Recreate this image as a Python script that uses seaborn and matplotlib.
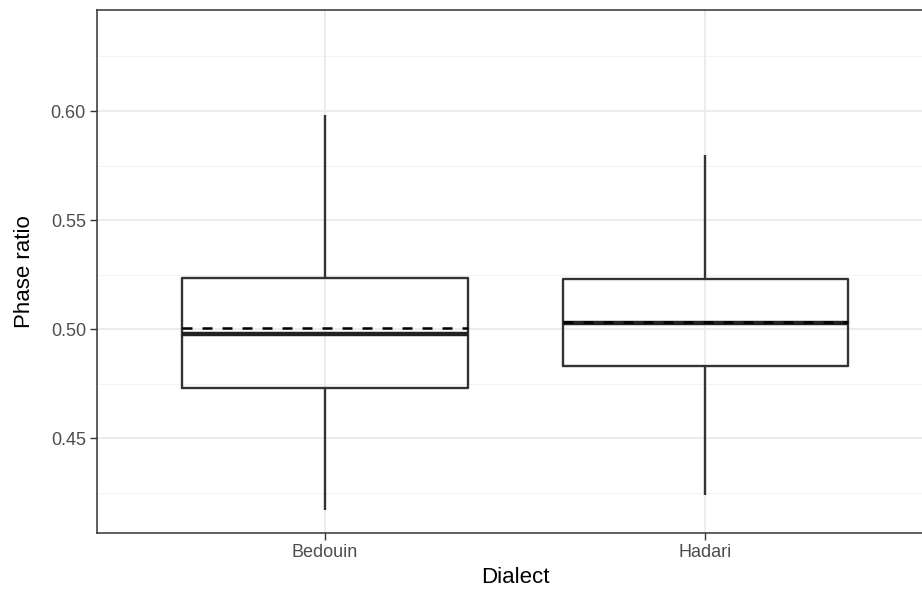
import matplotlib
matplotlib.use("Agg")
import matplotlib.pyplot as plt
import seaborn as sns
import pandas as pd
import numpy as np

# Data (five-number summaries) and group means
dialects = ["Bedouin", "Hadari"]
bedouin_vals = [0.4171, 0.4732, 0.4978, 0.5234, 0.5982]
hadari_vals = [0.4240, 0.4830, 0.5030, 0.5232, 0.5798]
means = [0.5006, 0.5032]
y_ticks = [0.45, 0.50, 0.55, 0.60]
y_minor = [0.425, 0.475, 0.525, 0.575, 0.625]

df = pd.DataFrame({
    "Dialect": [dialects[0]] * len(bedouin_vals) + [dialects[1]] * len(hadari_vals),
    "Phase ratio": bedouin_vals + hadari_vals,
})

sns.set_theme(style="white")
plt.rcParams["font.family"] = ["Liberation Sans", "DejaVu Sans"]

fig = plt.figure(figsize=(9.22, 5.90), dpi=100)
ax = fig.add_axes([97 / 922, 1 - 533 / 590, 836 / 922, 523 / 590])

ax.set_ylim(0.4067, 0.6463)
ax.set_xlim(-0.6, 1.6)

# grid
for v in y_minor:
    ax.axhline(v, color="#F3F3F3", lw=0.8, zorder=0)
for v in y_ticks:
    ax.axhline(v, color="#EBEBEB", lw=1.3, zorder=0)
for i in range(len(dialects)):
    ax.axvline(i, color="#EBEBEB", lw=1.3, zorder=0)

line_col = "#333333"
sns.boxplot(
    data=df, x="Dialect", y="Phase ratio", order=dialects, ax=ax,
    width=0.75, whis=1.5, fill=False, color=line_col, linewidth=1.7,
    showcaps=False, showfliers=False,
    medianprops=dict(color="#222222", linewidth=3.2),
    zorder=2,
)
ax.set_xlim(-0.6, 1.6)
ax.set_ylim(0.4067, 0.6463)

# mean dashed lines
for i, m in enumerate(means):
    ax.hlines(m, i - 0.375, i + 0.375, colors="black", linestyles=(0, (4, 4)),
              linewidth=1.8, zorder=3)

ax.set_yticks(y_ticks)
ax.set_yticklabels([f"{v:.2f}" for v in y_ticks])
ax.tick_params(axis="both", which="major", length=5, width=1.0, color=line_col,
               labelsize=13, labelcolor="#4D4D4D", pad=3, left=True, bottom=True)
ax.set_xlabel("Dialect", fontsize=16, color="black", labelpad=4)
ax.set_ylabel("Phase ratio", fontsize=16, color="black", labelpad=11)

for s in ax.spines.values():
    s.set_color(line_col)
    s.set_linewidth(1.1)
    s.set_visible(True)
ax.set_facecolor("white")
fig.patch.set_facecolor("white")

fig.savefig("out.png", dpi=100, facecolor="white")
